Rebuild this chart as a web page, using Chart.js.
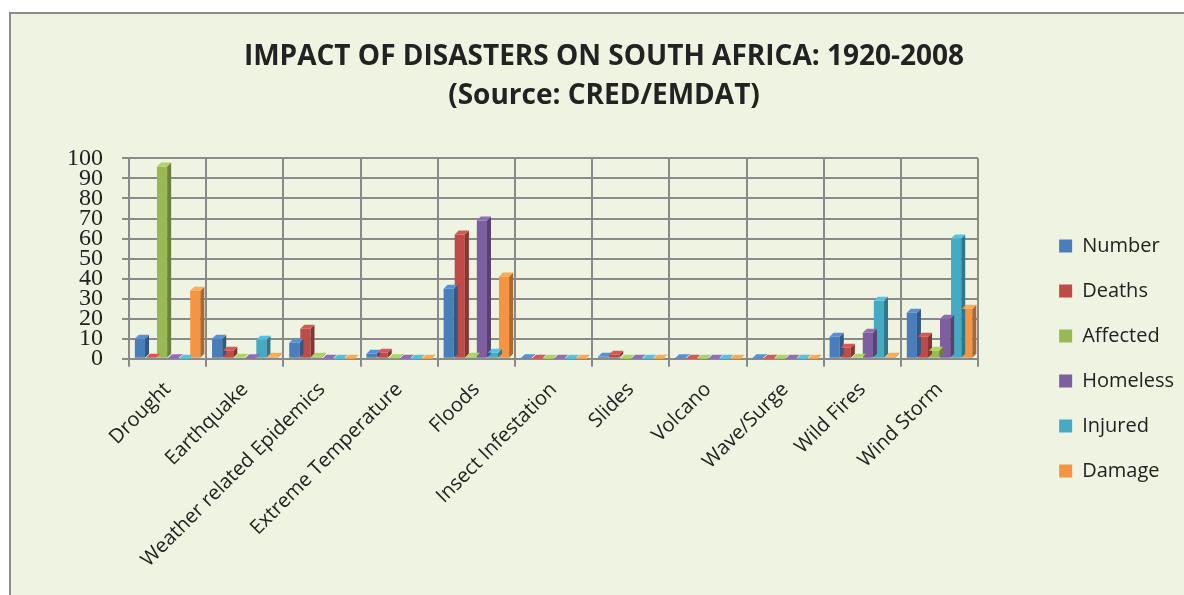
<!DOCTYPE html>
<html>
<head>
<meta charset="utf-8">
<script src="https://cdn.jsdelivr.net/npm/chart.js@4.4.1/dist/chart.umd.min.js"></script>
<style>
  html, body { margin: 0; padding: 0; background: #fff; }
  #wrap {
    position: absolute; left: 9px; top: 12px;
    width: 1175px; height: 583px;
    background: #eef3e2;
    border-left: 2px solid #8c8c8c;
    border-top: 2px solid #8c8c8c;
  }
  canvas { display: block; }
</style>
</head>
<body>
<div id="wrap"><canvas id="disasterChart" width="1173" height="581"></canvas></div>
<script>
// categories + series (percent share)
var categories = ['Drought', 'Earthquake', 'Weather related Epidemics', 'Extreme Temperature',
    'Floods', 'Insect Infestation', 'Slides', 'Volcano', 'Wave/Surge', 'Wild Fires', 'Wind Storm'];
var number   = [10, 10, 8, 2.5, 35, 0.3, 1, 0.2, 0.3, 11, 23];
var deaths   = [0.5, 4, 15, 3, 62, 0, 2, 0, 0, 5.5, 11];
var affected = [96, 0.5, 1, 0.3, 1, 0, 0, 0, 0, 0.5, 4];
var homeless = [0.3, 0.3, 0, 0, 69, 0, 0, 0, 0, 13, 20];
var injured  = [0, 9.5, 0, 0, 3, 0, 0, 0, 0, 29, 60];
var damage   = [34, 1, 0, 0, 41, 0, 0, 0, 0, 1, 25];
var seriesNames = ['Number', 'Deaths', 'Affected', 'Homeless', 'Injured', 'Damage'];
var yMin = 0, yMax = 100, yStep = 10;

var colors = ['#4a7ebb', '#be4b48', '#98b954', '#7d5fa0', '#46aac5', '#f59443'];

function shade(hex, f) {
    var n = parseInt(hex.slice(1), 16);
    var r = (n >> 16) & 255, g = (n >> 8) & 255, b = n & 255;
    r = Math.round(r * f); g = Math.round(g * f); b = Math.round(b * f);
    return 'rgb(' + Math.min(255, r) + ',' + Math.min(255, g) + ',' + Math.min(255, b) + ')';
}

// fake 3d: side + top face on every bar
var bar3d = {
    id: 'bar3d',
    afterDatasetsDraw: function (chart) {
        var ctx = chart.ctx;
        var d = 4;
        chart.data.datasets.forEach(function (ds, i) {
            var meta = chart.getDatasetMeta(i);
            meta.data.forEach(function (bar) {
                var p = bar.getProps(['x', 'y', 'width', 'base'], true);
                var l = p.x - p.width / 2, r = p.x + p.width / 2;
                ctx.save();
                ctx.fillStyle = shade(colors[i], 0.7);
                ctx.beginPath();
                ctx.moveTo(r, p.y); ctx.lineTo(r + d, p.y - d);
                ctx.lineTo(r + d, p.base - d); ctx.lineTo(r, p.base);
                ctx.closePath(); ctx.fill();
                ctx.fillStyle = shade(colors[i], 1.15);
                ctx.beginPath();
                ctx.moveTo(l, p.y); ctx.lineTo(l + d, p.y - d);
                ctx.lineTo(r + d, p.y - d); ctx.lineTo(r, p.y);
                ctx.closePath(); ctx.fill();
                ctx.restore();
            });
        });
    }
};

var lists = [number, deaths, affected, homeless, injured, damage];
var datasets = seriesNames.map(function (name, i) {
    return {
        label: name,
        data: lists[i],
        backgroundColor: colors[i],
        borderWidth: 0,
        barPercentage: 0.92,
        categoryPercentage: 0.86
    };
});

var ctx = document.getElementById('disasterChart').getContext('2d');
var myChart = new Chart(ctx, {
    type: 'bar',
    data: { labels: categories, datasets: datasets },
    plugins: [bar3d],
    options: {
        responsive: false,
        animation: false,
        layout: { padding: { left: 13, right: 0, bottom: 12 } },
        plugins: {
            title: {
                display: true,
                text: ['IMPACT OF DISASTERS ON SOUTH AFRICA: 1920-2008', '(Source: CRED/EMDAT)'],
                color: '#222',
                font: { family: "'Open Sans', sans-serif", size: 28, weight: 'bold', lineHeight: 1.4 },
                padding: { top: 23, bottom: 43 }
            },
            legend: {
                position: 'right',
                fullSize: true,
                // empty title only pushes the items down
                title: { display: true, text: '', font: { size: 10, lineHeight: 1 }, padding: { top: 0, bottom: 110 } },
                labels: {
                    color: '#222',
                    font: { family: "'Open Sans', sans-serif", size: 20 },
                    boxWidth: 13,
                    boxHeight: 13,
                    padding: 25
                }
            },
            tooltip: { enabled: false }
        },
        scales: {
            x: {
                grid: { color: '#8a8a8a', lineWidth: 2, offset: true, tickLength: 8 },
                border: { color: '#8a8a8a', width: 2 },
                ticks: {
                    color: '#222',
                    padding: 11,
                    font: { family: "'Open Sans', sans-serif", size: 20 },
                    maxRotation: 45, minRotation: 45,
                    autoSkip: false
                }
            },
            y: {
                min: yMin, max: yMax,
                grid: { color: '#8a8a8a', lineWidth: 2, tickLength: 7 },
                border: { color: '#8a8a8a', width: 2 },
                ticks: {
                    stepSize: yStep,
                    autoSkip: false,
                    color: '#222',
                    padding: 19,
                    font: { family: "'Liberation Serif', serif", size: 24, lineHeight: 0.75 }
                },
                afterFit: function (scale) { scale.width = 105; }
            },
            // spacer between plot and legend
            gap: {
                position: 'right',
                display: true,
                grid: { display: false, drawTicks: false },
                border: { display: false },
                ticks: { display: false },
                afterFit: function (scale) { scale.width = 56; }
            }
        }
    }
});
</script>
</body>
</html>
